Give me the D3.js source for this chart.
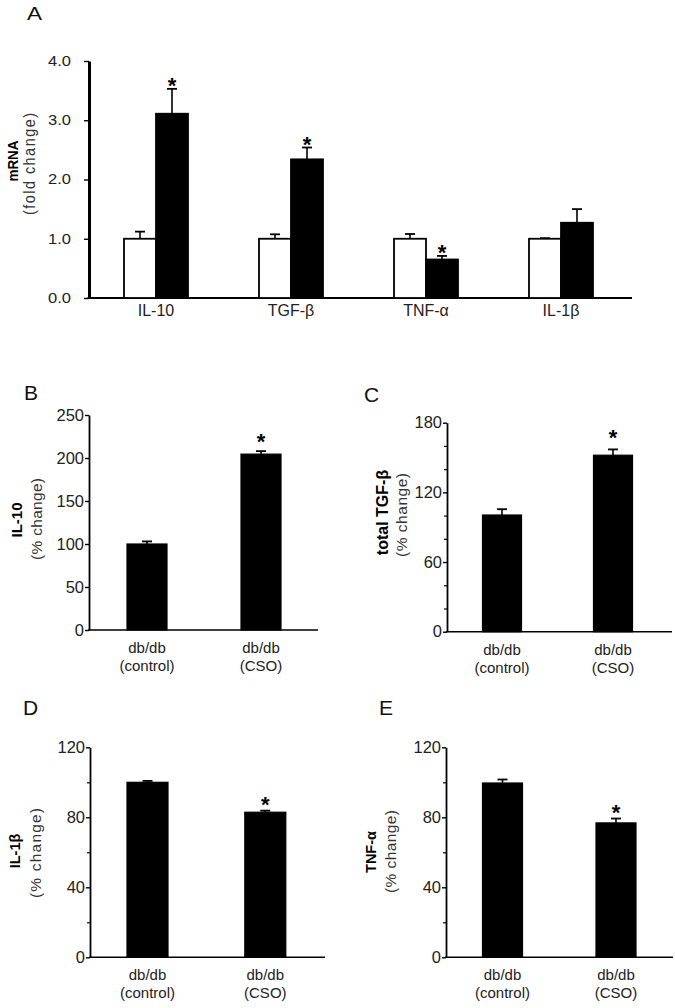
<!DOCTYPE html>
<html><head><meta charset="utf-8">
<script src="https://cdn.jsdelivr.net/npm/d3@7"></script>
<style>
body{margin:0;background:#fff}
svg{display:block}
text{font-family:"Liberation Sans",Arial,Helvetica,sans-serif}
</style></head>
<body><svg id="c" width="675" height="1008"></svg>
<script>
// ---------- DATA ----------
// Panel A: mRNA fold change
const catsA = ["IL-10", "TGF-β", "TNF-α", "IL-1β"];
const ctrlA = [1.0, 1.0, 1.0, 1.0];
const ctrlErrA = [0.12, 0.075, 0.08, 0.01];
const csoA = [3.11, 2.34, 0.65, 1.27];
const csoErrA = [0.42, 0.20, 0.06, 0.23];
const sigA = [true, true, true, false];
const ticksA = [0, 1, 2, 3, 4];

// Panels B–E: protein % change
const groups = ["db/db (control)", "db/db (CSO)"];
const groupLines = [["db/db", "(control)"], ["db/db", "(CSO)"]];
const valsB = [100, 204.5], errB = [3, 3.5], sigB = [false, true];
const ticksB = [0, 50, 100, 150, 200, 250];
const valsC = [100.5, 152], errC = [5, 5], sigC = [false, true];
const ticksC = [0, 60, 120, 180], minorC = [20, 40, 80, 100, 140, 160];
const valsD = [100, 82.9], errD = [0.8, 0.9], sigD = [false, true];
const ticksD = [0, 40, 80, 120], minorD = [20, 60, 100];
const valsE = [99.6, 76.8], errE = [2, 2.5], sigE = [false, true];
const ticksE = [0, 40, 80, 120], minorE = [20, 60, 100];

// ---------- DRAW ----------
const svg = d3.select("#c");
const TXT = "#222";

function fitLen(sel, len) {
  if (len) sel.attr("textLength", len).attr("lengthAdjust", "spacing");
}
function stretch(sel, k) {
  sel.each(function () {
    const w = this.getComputedTextLength();
    d3.select(this).attr("textLength", w * k).attr("lengthAdjust", "spacingAndGlyphs");
  });
}

function panel(cfg) {
  const g = svg.append("g");
  const y = d3.scaleLinear().domain(cfg.domain).range([cfg.y0, cfg.y1]);
  const x = d3.scalePoint().domain(cfg.cats).range(cfg.xr);

  // y axis
  const ay = g.append("g").attr("transform", `translate(${cfg.ax},0)`)
    .call(d3.axisLeft(y).tickValues(cfg.ticks).tickFormat(cfg.fmt)
      .tickSize(cfg.tick).tickSizeOuter(0).tickPadding(cfg.pad));
  ay.select(".domain").attr("stroke", "#000").attr("stroke-width", cfg.axW);
  ay.selectAll(".tick line").attr("stroke", "#000").attr("stroke-width", 1.4);
  const tt = ay.selectAll(".tick text").attr("font-size", cfg.tickFs).attr("fill", TXT)
    .attr("font-family", '"Liberation Sans",Arial,sans-serif');
  if (cfg.tickSx) stretch(tt, cfg.tickSx);
  if (cfg.minor) {
    const am = g.append("g").attr("transform", `translate(${cfg.ax},0)`)
      .call(d3.axisLeft(y).tickValues(cfg.minor).tickFormat("").tickSize(cfg.minorTick).tickSizeOuter(0));
    am.select(".domain").remove();
    am.selectAll(".tick line").attr("stroke", "#000").attr("stroke-width", 1.2);
  }
  // x baseline
  g.append("line").attr("x1", cfg.ax - cfg.axW / 2).attr("x2", cfg.xEnd)
    .attr("y1", y(0)).attr("y2", y(0)).attr("stroke", "#000").attr("stroke-width", cfg.baseW);

  // bars
  const STAR = 22;
  cfg.series.forEach(s => {
    const data = cfg.cats.map((c, i) => ({ c, v: s.vals[i], e: s.errs[i], sig: s.sig ? s.sig[i] : false }));
    const bx = d => x(d.c) + s.dx;
    const eg = g.append("g");
    eg.selectAll("line.v").data(data).join("line")
      .attr("x1", d => bx(d) + cfg.bw / 2).attr("x2", d => bx(d) + cfg.bw / 2)
      .attr("y1", d => y(d.v)).attr("y2", d => y(d.v + d.e))
      .attr("stroke", "#000").attr("stroke-width", 1.6);
    eg.selectAll("line.h").data(data).join("line")
      .attr("x1", d => bx(d) + cfg.bw / 2 - cfg.cap / 2).attr("x2", d => bx(d) + cfg.bw / 2 + cfg.cap / 2)
      .attr("y1", d => y(d.v + d.e)).attr("y2", d => y(d.v + d.e))
      .attr("stroke", "#000").attr("stroke-width", 1.8);
    g.selectAll(null).data(data).join("rect")
      .attr("x", d => bx(d)).attr("width", cfg.bw)
      .attr("y", d => y(d.v)).attr("height", d => y(0) - y(d.v))
      .attr("fill", s.fill).attr("stroke", "#000").attr("stroke-width", cfg.barSW);
    g.selectAll(null).data(data.filter(d => d.sig)).join("text")
      .attr("x", d => bx(d) + cfg.bw / 2)
      .attr("y", d => y(d.v + d.e) - cfg.starGap + 0.57 * STAR)
      .attr("text-anchor", "middle").attr("font-size", STAR).attr("font-weight", "bold")
      .attr("fill", "#000").text("*");
  });

  // x labels
  cfg.cats.forEach((c, i) => {
    cfg.xLines[i].forEach((t, j) => {
      g.append("text").attr("x", x(c)).attr("y", y(0) + cfg.xlOff[j])
        .attr("text-anchor", "middle").attr("font-size", cfg.xFs).attr("fill", TXT).text(t);
    });
  });

  // y titles (tsy thickens rotated glyphs across the axis)
  const tsy = cfg.titleSy || 1;
  g.append("text").attr("transform", `translate(${cfg.t1x},${cfg.t1y}) rotate(-90) scale(1,${tsy})`)
    .attr("text-anchor", "middle").attr("font-size", cfg.t1fs).attr("font-weight", "bold")
    .attr("fill", "#000").text(cfg.t1);
  const t2 = g.append("text").attr("transform", `translate(${cfg.t2x},${cfg.t2y}) rotate(-90) scale(1,${tsy})`)
    .attr("text-anchor", "middle").attr("font-size", cfg.t2fs)
    .attr("fill", "#333").text(cfg.t2);
  fitLen(t2, cfg.t2len);

  // panel letter
  const L = g.append("text").attr("x", cfg.lx).attr("y", cfg.ly).attr("font-size", cfg.lfs)
    .attr("fill", "#111").text(cfg.letter);
  if (cfg.lsx) stretch(L, cfg.lsx);
}

panel({
  cats: catsA, domain: [0, 4], y0: 298, y1: 61, xr: [156, 561], ax: 89, xEnd: 632,
  ticks: ticksA, fmt: d3.format(".1f"), tick: 5, pad: 13, tickFs: 14, tickSx: 1.18,
  axW: 3, baseW: 2, bw: 32, cap: 10, barSW: 1.8, starGap: 8,
  series: [
    { vals: ctrlA, errs: ctrlErrA, fill: "#fff", dx: -32 },
    { vals: csoA, errs: csoErrA, fill: "#000", dx: 0, sig: sigA }
  ],
  xLines: catsA.map(c => [c]), xlOff: [18], xFs: 16,
  titleSy: 1.15,
  t1: "mRNA", t1x: 18, t1y: 161, t1fs: 13.5,
  t2: "(fold change)", t2x: 35, t2y: 164, t2fs: 14.5, t2len: 102,
  letter: "A", lx: 27, ly: 20, lfs: 18, lsx: 1.25
});

const common = { tick: 4, minorTick: 3, pad: 1, tickFs: 16.5, axW: 1.8, baseW: 1.6, cap: 10, barSW: 1.2,
  xFs: 15, xlOff: [23, 41], xLines: groupLines, t1fs: 15, t2fs: 15.5, lfs: 21 };

panel(Object.assign({}, common, {
  cats: groups, domain: [0, 250], y0: 630, y1: 415, xr: [147, 261], ax: 89, xEnd: 318,
  ticks: ticksB, fmt: d3.format("d"), bw: 40, starGap: 15,
  series: [{ vals: valsB, errs: errB, fill: "#000", dx: -20, sig: sigB }],
  t1: "IL-10", t1x: 22, t1y: 520,
  t2: "(% change)", t2x: 42, t2y: 519, t2len: 82,
  letter: "B", lx: 24, ly: 400
}));

panel(Object.assign({}, common, {
  cats: groups, domain: [0, 180], y0: 631.7, y1: 422.7, xr: [502, 613], ax: 447, xEnd: 672,
  ticks: ticksC, minor: minorC, fmt: d3.format("d"), bw: 39, starGap: 17,
  series: [{ vals: valsC, errs: errC, fill: "#000", dx: -19.5, sig: sigC }],
  t1: "total TGF-β", t1x: 388, t1y: 512.5, t1fs: 16,
  t2: "(% change)", t2x: 407, t2y: 515, t2len: 84,
  letter: "C", lx: 364, ly: 402
}));

panel(Object.assign({}, common, {
  cats: groups, domain: [0, 120], y0: 957.3, y1: 747.3, xr: [147.5, 265.3], ax: 90, xEnd: 325,
  ticks: ticksD, minor: minorD, fmt: d3.format("d"), bw: 41, starGap: 11,
  series: [{ vals: valsD, errs: errD, fill: "#000", dx: -20.5, sig: sigD }],
  t1: "IL-1β", t1x: 20, t1y: 851, t1fs: 14.5,
  t2: "(% change)", t2x: 41, t2y: 853, t2len: 90,
  letter: "D", lx: 23, ly: 715
}));

panel(Object.assign({}, common, {
  cats: groups, domain: [0, 120], y0: 957.3, y1: 747.3, xr: [502.5, 616], ax: 446, xEnd: 673,
  ticks: ticksE, minor: minorE, fmt: d3.format("d"), bw: 40, starGap: 11,
  series: [{ vals: valsE, errs: errE, fill: "#000", dx: -20, sig: sigE }],
  t1: "TNF-α", t1x: 376, t1y: 852, t1fs: 14.5,
  t2: "(% change)", t2x: 396, t2y: 851.5, t2len: 83,
  letter: "E", lx: 379, ly: 715
}));
</script></body></html>
